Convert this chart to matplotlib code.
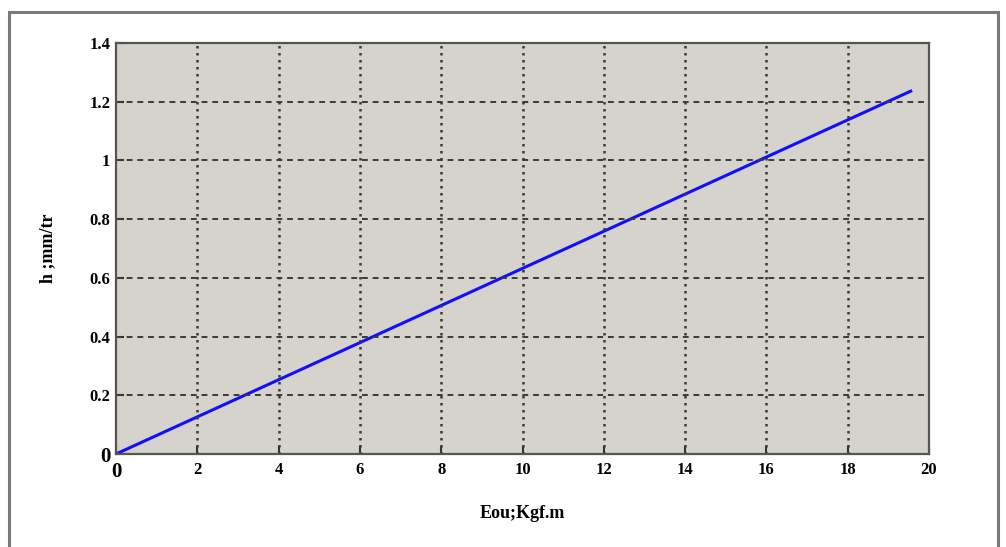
import matplotlib
matplotlib.use("Agg")
import matplotlib.pyplot as plt
from matplotlib.patches import Rectangle

# Data
eou = [0.0, 19.55]
h = [0.0, 1.236]
x_ticks = [0, 2, 4, 6, 8, 10, 12, 14, 16, 18, 20]
y_ticks = [0, 0.2, 0.4, 0.6, 0.8, 1.0, 1.2, 1.4]
y_tick_labels = ["0", "0.2", "0.4", "0.6", "0.8", "1", "1.2", "1.4"]

plt.rcParams['font.family'] = ['Liberation Serif', 'DejaVu Serif']

fig = plt.figure(figsize=(10.06, 5.47), dpi=100)
fig.patch.set_facecolor('white')

# outer frame
fig.patches.append(Rectangle((9/1006, -0.05), (998-9)/1006, (547-12)/547 + 0.05,
                             transform=fig.transFigure, fill=False,
                             edgecolor='#7a7a7a', linewidth=2.2))

ax = fig.add_axes([116/1006, (547-454)/547, (929-116)/1006, (454-43)/547])
ax.set_facecolor('#d6d2cc')
ax.plot(eou, h, color='#1010ff', linewidth=2.2)

ax.set_xlim(0, 20)
ax.set_ylim(0, 1.4)
ax.set_xticks(x_ticks)
ax.set_xticklabels([str(t) for t in x_ticks], fontweight='bold', fontsize=12)
ax.set_yticks(y_ticks)
ax.set_yticklabels(y_tick_labels, fontweight='bold', fontsize=12)
for lab in (ax.get_xticklabels()[0], ax.get_yticklabels()[0]):
    lab.set_fontsize(15)

ax.tick_params(direction='in', length=6, width=1.5, color='#333333')
ax.tick_params(axis='x', pad=6)
ax.tick_params(axis='y', pad=4)

for xv in x_ticks[1:-1]:
    ax.axvline(xv, color='#3a3a3a', linestyle=(0, (1.0, 1.8)), linewidth=1.8)
for yv in y_ticks[1:-1]:
    ax.axhline(yv, color='#3a3a3a', linestyle=(0, (3, 2.5)), linewidth=1.4)

for s in ax.spines.values():
    s.set_color('#555555')
    s.set_linewidth(1.6)

ax.set_xlabel('Eou;Kgf.m', fontweight='bold', fontsize=13, labelpad=16)
ax.set_ylabel('h ;mm/tr', fontweight='bold', fontsize=13, labelpad=24)

fig.savefig('out.png', dpi=100)
